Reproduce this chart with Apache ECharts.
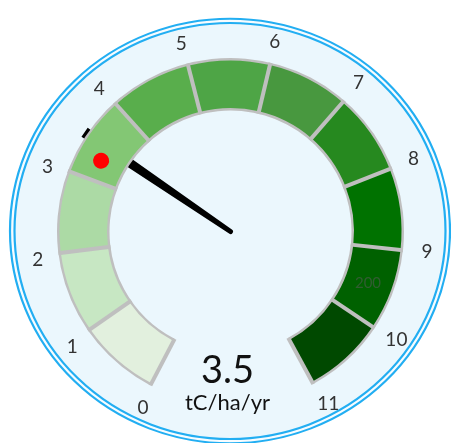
<!DOCTYPE html>
<html>
<head>
<meta charset="utf-8">
<script src="https://cdn.jsdelivr.net/npm/echarts@6/dist/echarts.min.js"></script>
<style>
  html, body { margin: 0; padding: 0; background: #fff; }
  #chart { width: 451px; height: 443px; }
</style>
</head>
<body>
<div id="chart"></div>
<script>
// scale
const gaugeMin = 0
const gaugeMax = 11
// one colour per unit band, 0-1 ... 10-11
const bandColors = ['#e2f0de', '#c7e7c3', '#acdaa5', '#83c774', '#59ae4c', '#4ea546',
  '#48983f', '#26891f', '#007200', '#006100', '#004900']
// reading shown by the needle
const reading = 3.5
const unitLabel = 'tC/ha/yr'
// red marker on the band
const markerValue = 3.3
const markerNote = '200'

const center = [230.5, 231.5]
const startAngle = 242.5
const endAngle = -61.5
const font = 'Lato, "Noto Sans", sans-serif'
const borderGray = '#bfbfbf'

function colorStops () {
  return bandColors.map((c, i) => [(i + 1) / bandColors.length, c])
}

function hiddenParts () {
  return {
    axisLine: { show: false, lineStyle: { width: 0 } },
    axisTick: { show: false },
    splitLine: { show: false, length: 0, distance: 0 },
    axisLabel: { show: false },
    pointer: { show: false },
    anchor: { show: false },
    title: { show: false },
    detail: { show: false }
  }
}

const chart = echarts.init(document.getElementById('chart'))

chart.setOption({
  animation: false,
  graphic: [
    {
      type: 'circle',
      x: 230,
      y: 231,
      scaleY: 213 / 220.75,
      z: -10,
      shape: { cx: 0, cy: 0, r: 220 },
      style: { fill: '#f7fcff', stroke: '#22aef2', lineWidth: 2.2 }
    },
    {
      type: 'circle',
      x: 230,
      y: 231,
      scaleY: 208.5 / 216,
      z: -9,
      shape: { cx: 0, cy: 0, r: 215.5 },
      style: { fill: '#ebf7fd', stroke: '#22aef2', lineWidth: 2.2 }
    },
    {
      type: 'text',
      x: 368,
      y: 283,
      z: 20,
      style: {
        text: markerNote,
        fill: 'rgba(90,90,90,0.55)',
        font: '15px ' + font,
        align: 'center',
        verticalAlign: 'middle'
      }
    }
  ],
  series: [
    // tick labels round the outside
    {
      type: 'gauge',
      z: 1,
      center: [232, 233],
      radius: 196,
      startAngle: 243,
      endAngle: -60.6,
      min: gaugeMin,
      max: gaugeMax,
      splitNumber: gaugeMax - gaugeMin,
      ...hiddenParts(),
      axisLabel: {
        show: true,
        distance: 0,
        // a non-zero rotate makes the labels centred on their point
        rotate: 0.0001,
        color: '#333',
        fontSize: 19,
        fontFamily: font
      },
      data: []
    },
    // needle and reading (drawn under the band)
    {
      type: 'gauge',
      z: 1,
      center: center,
      radius: 196,
      startAngle: startAngle,
      endAngle: endAngle,
      min: gaugeMin,
      max: gaugeMax,
      ...hiddenParts(),
      pointer: {
        show: true,
        icon: 'path://M0,0L11,0L8,175A2.5,2.5,0,0,1,3,175Z',
        keepAspect: false,
        width: 11,
        length: 179,
        offsetCenter: [0, 2.5],
        itemStyle: { color: '#000' }
      },
      title: {
        show: true,
        offsetCenter: [-3, 171],
        color: '#111',
        fontSize: 22,
        fontFamily: font
      },
      detail: {
        show: true,
        offsetCenter: [-3, 139],
        color: '#111',
        fontSize: 38,
        fontWeight: 'normal',
        fontFamily: font,
        formatter: v => v.toFixed(1)
      },
      data: [{ value: reading, name: unitLabel }]
    },
    // gray outline under the coloured band
    {
      type: 'gauge',
      z: 2,
      center: center,
      radius: 173.5,
      startAngle: startAngle,
      endAngle: endAngle,
      min: gaugeMin,
      max: gaugeMax,
      ...hiddenParts(),
      axisLine: { show: true, lineStyle: { width: 52.5, color: [[1, borderGray]] } },
      data: []
    },
    // coloured band with gray separators
    {
      type: 'gauge',
      z: 3,
      center: center,
      radius: 171,
      startAngle: startAngle,
      endAngle: endAngle,
      min: gaugeMin,
      max: gaugeMax,
      splitNumber: gaugeMax - gaugeMin,
      ...hiddenParts(),
      axisLine: { show: true, lineStyle: { width: 47.5, color: colorStops() } },
      splitLine: {
        show: true,
        length: 52.5,
        distance: -50,
        lineStyle: { color: borderGray, width: 4 }
      },
      data: []
    },
    // red marker dot
    {
      type: 'gauge',
      z: 4,
      center: center,
      radius: 172.5,
      startAngle: startAngle,
      endAngle: endAngle,
      min: gaugeMin,
      max: gaugeMax,
      ...hiddenParts(),
      pointer: {
        show: true,
        icon: 'circle',
        width: 16,
        length: 16,
        offsetCenter: [0, -139.5],
        itemStyle: { color: '#ff0000' }
      },
      data: [{ value: markerValue }]
    }
  ]
})
</script>
</body>
</html>
